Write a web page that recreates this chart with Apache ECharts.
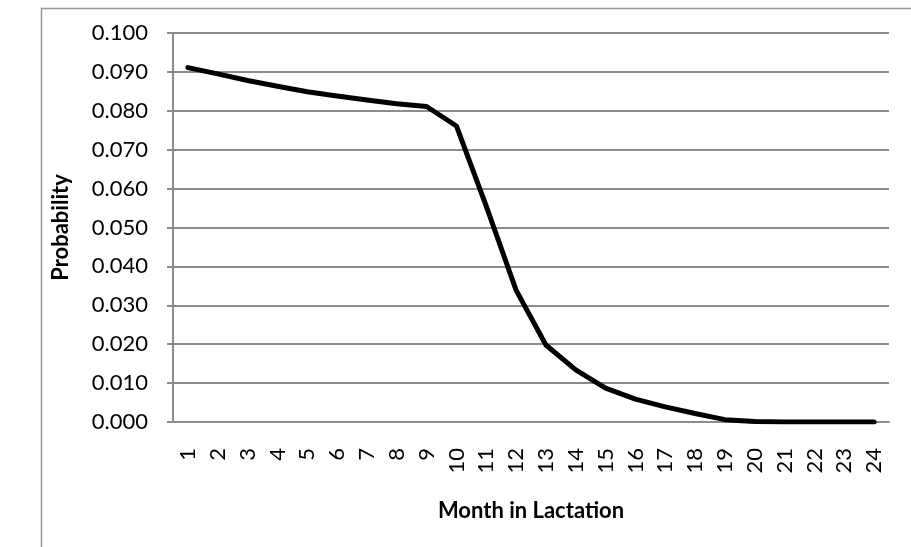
<!DOCTYPE html>
<html>
<head>
<meta charset="utf-8">
<script src="https://cdn.jsdelivr.net/npm/echarts@6/dist/echarts.min.js"></script>
<style>
  html, body { margin: 0; padding: 0; background: #fff; }
  #chart { width: 911px; height: 547px; }
</style>
</head>
<body>
<div id="chart"></div>
<script>
// months 1..24
const months = ["1","2","3","4","5","6","7","8","9","10","11","12","13","14","15","16","17","18","19","20","21","22","23","24"];
// probability
const probability = [0.0911, 0.0895, 0.0878, 0.0863, 0.0849, 0.0838, 0.0828, 0.0818, 0.0811, 0.0761,
  0.0555, 0.0339, 0.0198, 0.0134, 0.0087, 0.0059, 0.0039, 0.0022, 0.0006, 0.0001, 0, 0, 0, 0];
const yMin = 0;
const yMax = 0.1;
const yStep = 0.01;

const gray = "#8c8c8c";
const font = "Lato";

const mychart = echarts.init(document.getElementById("chart"));
mychart.setOption({
  animation: false,
  // outer chart border, cut off at right and bottom like the picture
  graphic: [
    {
      type: "rect",
      left: 39,
      top: 6,
      shape: { width: 900, height: 600 },
      style: { fill: "none", stroke: "#999", lineWidth: 1.5 },
      silent: true,
    },
  ],
  grid: {
    left: 173,
    right: 22,
    top: 33,
    bottom: 125,
  },
  xAxis: {
    type: "category",
    data: months,
    boundaryGap: true,
    name: "Month in Lactation",
    nameLocation: "middle",
    nameGap: 78,
    nameTextStyle: { fontFamily: font, fontWeight: "bold", fontSize: 22, color: "#000" },
    axisLine: { lineStyle: { color: gray, width: 2 } },
    axisTick: { show: false },
    axisLabel: {
      rotate: 90,
      margin: 26,
      fontFamily: font,
      fontSize: 22,
      color: "#000",
    },
  },
  yAxis: {
    type: "value",
    min: yMin,
    max: yMax,
    interval: yStep,
    name: "Probability",
    nameLocation: "middle",
    nameGap: 101,
    nameTextStyle: { fontFamily: font, fontWeight: "bold", fontSize: 22, color: "#000" },
    axisLine: { show: true, lineStyle: { color: gray, width: 2 } },
    axisTick: { show: true, length: 6, lineStyle: { color: gray, width: 2 } },
    splitLine: { lineStyle: { color: gray, width: 2 } },
    axisLabel: {
      margin: 25,
      fontFamily: font,
      fontSize: 22,
      color: "#000",
      formatter: (v) => v.toFixed(3),
    },
  },
  series: [
    {
      type: "line",
      data: probability,
      showSymbol: false,
      lineStyle: { color: "#000", width: 5, cap: "round", join: "round" },
    },
  ],
});
</script>
</body>
</html>
